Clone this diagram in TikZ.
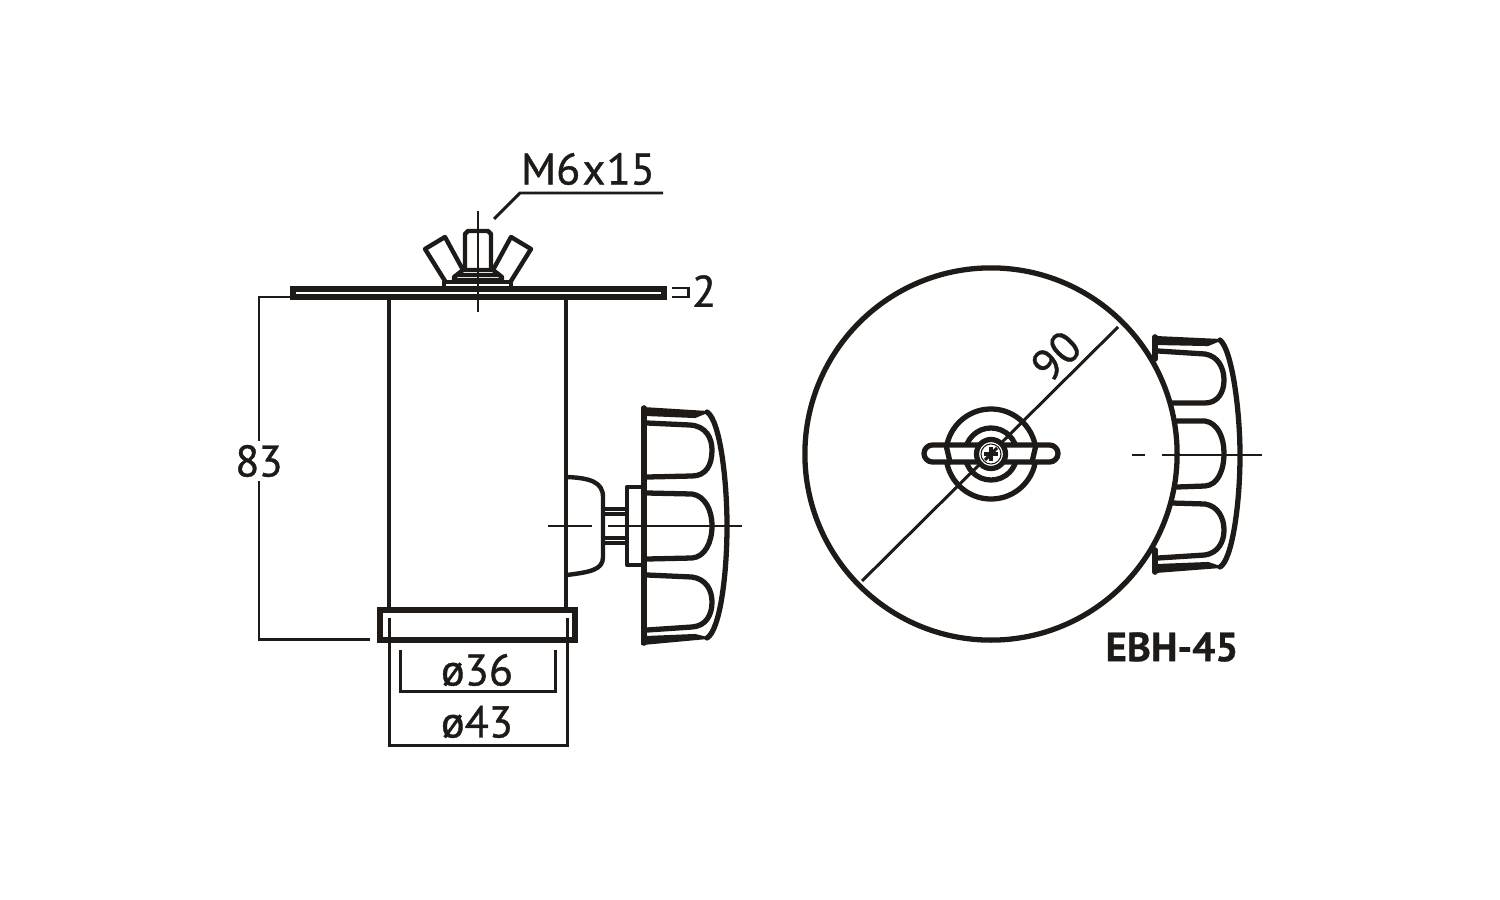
\documentclass[tikz,border=0pt]{standalone}
\usepackage{fontspec}
\setmainfont{PT Sans}
\newfontfamily\sizefont[RawFeature={embolden=0.9}]{PT Sans}
\newfontfamily\modelfont[RawFeature={embolden=0.6}]{PT Sans Bold}
\usetikzlibrary{calc, positioning}

\tikzset{
  outline/.style={draw=inkblack, line width=1.25pt, line join=round, line cap=round},
  heavy/.style={outline, line width=1.5pt},
  measure/.style={draw=inkblack, line width=0.85pt},
  centre/.style={draw=inkblack, line width=0.75pt},
  wedge/.style={fill=inkblack, draw=inkblack, line width=0.6pt, line join=round},
  sizelabel/.style={font=\sizefont\fontsize{12.6}{14}\selectfont, text=inkblack, inner sep=1pt},
}
\definecolor{inkblack}{HTML}{1E1A17}

\begin{document}
\begin{tikzpicture}[x=0.01cm, y=-0.01cm]
\useasboundingbox (0,0) rectangle (1500,900);

% Maße links
\draw[measure] (370,639) -- (259,639) -- (259,297) -- (292,297);
\draw[measure] (389,618) -- (389,745) -- (567,745) -- (567,618);
\draw[measure] (400,650) -- (400,691) -- (555,691) -- (555,650);
\draw[measure] (494,219) -- (520,193) -- (663,193);
\draw[measure] (672,288) -- (688,288) -- (688,297) -- (672,297);

% Platte, Rohr, Ring
\draw[outline, line width=1.45pt, line join=miter] (293,289) rectangle (664,297);
\draw[outline] (389,298) -- (389,609);
\draw[outline] (566,298) -- (566,609);
\draw[heavy, line join=miter] (380,610) rectangle (575,640);

% Flügelmutter
\draw[outline] (445,281) -- (425,249) -- (445,237) -- (463,270);
\draw[outline] (511,281) -- (531,249) -- (511,237) -- (493,270);
\draw[outline] (465,270) -- (465,234) -- (468,231) -- (488,231) -- (491,234) -- (491,270);
\draw[outline, fill=white] (454,280) -- (454,277) -- (463,270) -- (493,270) -- (502,277) -- (502,280) -- cycle;
\draw[outline] (459,275) -- (497,275);
\draw[outline, fill=white] (444,282) rectangle (511,288);
\draw[centre] (478,211) -- (478,312);

% Kugel und Welle
\draw[outline] (567,477) .. controls (590,478) and (603,482) .. (603,497) -- (603,557)
  .. controls (603,570) and (590,572) .. (567,575);
\draw[outline] (604,509) -- (627,509);
\draw[outline] (604,514) -- (627,514);
\draw[outline] (604,538) -- (627,538);
\draw[outline] (604,543) -- (627,543);
\draw[outline] (644,487) -- (627,487) -- (627,565) -- (644,565);

% Griff Seitenansicht
\draw[heavy, line width=1.6pt] (644,408) -- (644,643);
\draw[wedge] (642,408) -- (707,412) -- (695,417) -- (647,415) -- cycle;
\draw[wedge] (642,644) -- (707,638) -- (695,635) -- (647,637) -- cycle;
\draw[heavy] (707,412) .. controls (720,420) and (727,480) .. (727,526)
  .. controls (727,575) and (720,630) .. (707,638);
\draw[heavy] (647,423) -- (690,425) .. controls (706,426) and (712,438) .. (712,450)
  .. controls (712,465) and (706,476) .. (692,476) -- (647,477);
\draw[heavy] (647,493) -- (692,494) .. controls (705,496) and (712,510) .. (712,526)
  .. controls (712,542) and (705,557) .. (692,558) -- (647,559);
\draw[heavy] (647,575) -- (692,577) .. controls (706,579) and (712,590) .. (712,602)
  .. controls (712,615) and (706,626) .. (692,627) -- (647,630);
\draw[centre] (548,526) -- (592,526);
\draw[centre] (608,526) -- (742,526);

% Griff Draufsicht
\draw[heavy, line width=1.6pt] (1155,337) -- (1155,359);
\draw[heavy, line width=1.6pt] (1155,550) -- (1155,572);
\draw[wedge] (1155,337) -- (1220,340) -- (1208,345) -- (1158,344) -- cycle;
\draw[wedge] (1155,572) -- (1220,567) -- (1208,563) -- (1158,565) -- cycle;
\draw[heavy] (1220,340) .. controls (1232,350) and (1240,410) .. (1240,455)
  .. controls (1240,505) and (1232,560) .. (1220,567);
\draw[heavy] (1158,351) -- (1205,354) .. controls (1218,356) and (1224,368) .. (1224,380)
  .. controls (1224,392) and (1218,403) .. (1205,403) -- (1172,403);
\draw[heavy] (1177,421) -- (1205,421) .. controls (1218,423) and (1224,438) .. (1224,453)
  .. controls (1224,470) and (1218,485) .. (1205,486) -- (1177,487);
\draw[heavy] (1172,503) -- (1205,504) .. controls (1218,506) and (1224,518) .. (1224,530)
  .. controls (1224,542) and (1218,553) .. (1205,555) -- (1158,558);
\draw[centre] (1132,455) -- (1145,455);
\draw[centre] (1162,455) -- (1262,455);

% Scheibe
\coordinate (hub) at (991,454);
\draw[heavy] (hub) circle [radius=1.86cm];
\draw[measure] (862,581) -- (1118,327);
\draw[heavy] (hub) circle [radius=0.45cm];
\draw[heavy] (hub) circle [radius=0.26cm];
\draw[heavy, fill=white, rounded corners=2.4pt] (924,445) rectangle (1058,462);
\draw[heavy] (946,445) -- (950,462);
\draw[heavy] (1036,445) -- (1032,462);
\draw[heavy, fill=white] (hub) circle [radius=0.145cm];
\draw[measure, line width=0.3pt] (hub) circle [radius=0.1cm];
\draw[measure, line width=0.9pt] (984,454) -- (998,454);
\draw[measure, line width=0.9pt] (991,447) -- (991,461);
\draw[measure] (985,460) -- (997,448);

% Beschriftung
\node[sizelabel] (screw) at (588,169) {M6\kern0.05em x\kern0.03em 15};
\node[sizelabel] (thick) at (704,291) {2};
\node[sizelabel, fill=white, inner xsep=0pt] (height) at (259,461) {8\kern-0.02em 3};
\node[sizelabel] (inner) at (477,670) {ø36};
\node[sizelabel] (outer) at (477,722) {ø43};
\node[sizelabel, rotate=45] (width) at (1056,356) {90};
\node[font=\modelfont\fontsize{11.6}{13}\selectfont, text=inkblack, inner sep=1pt] (model) at (1172,647) {EBH-45};

\end{tikzpicture}
\end{document}
